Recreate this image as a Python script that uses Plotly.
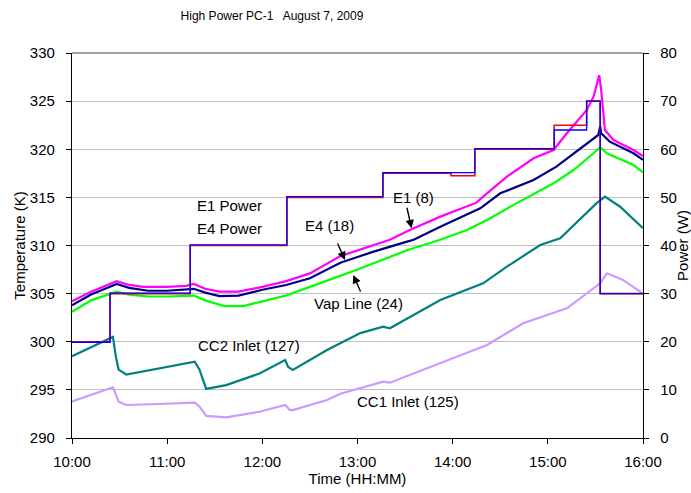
import pandas as pd
import plotly.graph_objects as go

DAY = "2009-08-07"

# ---- data (time as hours after 10:00) ----
e1_t = [0, 0.2, 0.47, 0.6, 0.75, 1.0, 1.2, 1.28, 1.4, 1.55, 1.75, 2.0, 2.25, 2.5, 2.82, 3.0, 3.17, 3.34,
        3.55, 3.87, 4.25, 4.32, 4.57, 4.85, 5.06, 5.20, 5.41, 5.48, 5.54, 5.56, 5.60, 5.69, 5.90, 6.0]
e1_temp = [304.2, 305.2, 306.3, 305.9, 305.7, 305.7, 305.8, 306.0, 305.5, 305.2, 305.2, 305.7, 306.3, 307.1,
           308.9, 309.5, 310.05, 310.6, 311.6, 313.0, 314.45, 315.07, 317.15, 319.06, 319.92, 321.66,
           324.08, 325.46, 327.7, 326.2, 322.0, 320.96, 319.92, 319.3]

e4_t = [0, 0.2, 0.47, 0.6, 0.8, 1.0, 1.28, 1.4, 1.55, 1.75, 2.0, 2.25, 2.5, 2.82, 3.0, 3.17, 3.52, 3.59,
        3.87, 4.22, 4.29, 4.50, 4.85, 5.09, 5.37, 5.53, 5.55, 5.56, 5.65, 5.90, 6.0]
e4_temp = [303.8, 304.9, 306.0, 305.6, 305.3, 305.3, 305.5, 305.1, 304.75, 304.8, 305.4, 305.9, 306.6,
           308.2, 308.8, 309.36, 310.4, 310.6, 311.95, 313.5, 313.86, 315.42, 316.8, 318.19, 320.27,
           321.48, 322.4, 321.66, 320.79, 319.58, 318.9]

vap_t = [0, 0.2, 0.47, 0.6, 0.8, 1.0, 1.28, 1.4, 1.6, 1.8, 2.0, 2.25, 2.5, 2.82, 3.0, 3.17, 3.52, 3.87,
         4.15, 4.36, 4.67, 5.06, 5.27, 5.48, 5.55, 5.62, 5.90, 6.0]
vap_temp = [303.1, 304.3, 305.2, 304.9, 304.7, 304.7, 304.8, 304.3, 303.7, 303.7, 304.2, 304.8, 305.7,
            306.8, 307.5, 308.15, 309.5, 310.6, 311.6, 312.65, 314.38, 316.46, 317.84, 319.58, 320.2,
            319.58, 318.36, 317.6]

cc2_t = [0, 0.40, 0.43, 0.46, 0.49, 0.57, 0.92, 1.29, 1.34, 1.41, 1.62, 1.97, 2.24, 2.27, 2.32, 2.68,
         3.03, 3.27, 3.34, 3.87, 4.32, 4.57, 4.92, 5.13, 5.51, 5.60, 5.76, 6.0]
cc2_temp = [298.5, 300.36, 300.5, 298.5, 297.1, 296.6, 297.24, 297.93, 297.1, 295.1, 295.5, 296.7,
            298.1, 297.4, 297.06, 299.14, 300.9, 301.57, 301.4, 304.34, 306.07, 307.8, 310.05, 310.75,
            314.38, 315.07, 314.03, 311.8]

cc1_t = [0, 0.40, 0.43, 0.49, 0.57, 0.92, 1.29, 1.34, 1.41, 1.62, 1.97, 2.24, 2.29, 2.32, 2.68, 2.82,
         3.03, 3.27, 3.34, 3.87, 4.36, 4.74, 5.20, 5.55, 5.62, 5.79, 6.0]
cc1_temp = [293.8, 295.16, 295.27, 293.77, 293.43, 293.53, 293.67, 293.25, 292.29, 292.15, 292.73,
            293.43, 292.9, 292.9, 293.95, 294.6, 295.16, 295.85, 295.75, 297.76, 299.66, 301.92,
            303.47, 306.07, 307.11, 306.42, 305.0]

pw_t = [0, 0.40, 1.242, 2.258, 3.267, 3.983, 4.233, 5.067, 5.408, 5.55, 6.0]
e1_power = [20, 30, 40, 50, 55, 54.5, 60, 65, 70, 30, 30]
e4_power = [19.9, 30.1, 40.15, 50.15, 55.15, 55.15, 60.15, 64, 70, 30, 30]

x_ticks = ["10:00", "11:00", "12:00", "13:00", "14:00", "15:00", "16:00"]


def to_time(hours):
    return pd.Timestamp(f"{DAY} 10:00") + pd.to_timedelta(hours, unit="h")


def at(clock):
    return f"{DAY} {clock}"


FONT = "Liberation Sans, Arial, sans-serif"

fig = go.Figure()

fig.add_trace(go.Scatter(x=to_time(cc1_t), y=cc1_temp, mode="lines", name="CC1 Inlet (125)",
                         line=dict(color="#CC99FF", width=2.2)))
fig.add_trace(go.Scatter(x=to_time(cc2_t), y=cc2_temp, mode="lines", name="CC2 Inlet (127)",
                         line=dict(color="#008080", width=2.2)))
fig.add_trace(go.Scatter(x=to_time(vap_t), y=vap_temp, mode="lines", name="Vap Line (24)",
                         line=dict(color="#00FF00", width=2.2)))
fig.add_trace(go.Scatter(x=to_time(e4_t), y=e4_temp, mode="lines", name="E4 (18)",
                         line=dict(color="#000080", width=2.2)))
fig.add_trace(go.Scatter(x=to_time(e1_t), y=e1_temp, mode="lines", name="E1 (8)",
                         line=dict(color="#FF00FF", width=2.2)))
fig.add_trace(go.Scatter(x=to_time(pw_t), y=e1_power, mode="lines", name="E1 Power", yaxis="y2",
                         line=dict(color="#FF0000", width=1.6, shape="hv")))
fig.add_trace(go.Scatter(x=to_time(pw_t), y=e4_power, mode="lines", name="E4 Power", yaxis="y2",
                         line=dict(color="#0000FF", width=1.3, shape="hv")))

fig.update_layout(
    width=691, height=493,
    margin=dict(l=72, r=48, t=53, b=55),
    paper_bgcolor="white", plot_bgcolor="white",
    showlegend=False,
    font=dict(family=FONT, size=15, color="black"),
    title=dict(text="High Power PC-1   August 7, 2009", x=272 / 691, xanchor="center",
               y=1 - 16 / 493, yanchor="middle", font=dict(size=12, family=FONT)),
    xaxis=dict(
        type="date", automargin=False,
        range=[at("10:00"), at("16:00")],
        tickvals=[at(t) for t in x_ticks], ticktext=x_ticks,
        ticks="outside", ticklen=5, tickcolor="black", ticklabelstandoff=5,
        showline=True, linecolor="black", linewidth=1.3,
        showgrid=False, zeroline=False,
        title=dict(text="Time (HH:MM)", standoff=4, font=dict(size=15)),
    ),
    yaxis=dict(
        range=[290, 330], dtick=5, tick0=290, automargin=False,
        ticks="outside", ticklen=5, tickcolor="black", ticklabelstandoff=8,
        showline=True, linecolor="black", linewidth=1.3,
        showgrid=True, gridcolor="#C0C0C0", gridwidth=1, zeroline=False,
        title=dict(text="Temperature (K)", standoff=0, font=dict(size=15)),
    ),
    yaxis2=dict(
        range=[0, 80], dtick=10, tick0=0, overlaying="y", side="right", automargin=False,
        ticks="outside", ticklen=5, tickcolor="black", ticklabelstandoff=8,
        showline=True, linecolor="black", linewidth=1.3,
        showgrid=False, zeroline=False,
        title=dict(text="Power (W)", standoff=6, font=dict(size=15)),
    ),
)

fig.add_shape(type="line", xref="paper", yref="paper", x0=0, x1=1, y0=1, y1=1,
              line=dict(color="#808080", width=1.3))

labels = [
    ("E1 Power", 0.2767, 0.6026),
    ("E4 Power", 0.2767, 0.5429),
    ("E1 (8)", 0.5972, 0.6234),
    ("E4 (18)", 0.4518, 0.5532),
    ("Vap Line (24)", 0.5009, 0.3506),
    ("CC2 Inlet (127)", 0.31, 0.239),
    ("CC1 Inlet (125)", 0.5884, 0.0943),
]
for text, xp, yp in labels:
    fig.add_annotation(text=text, xref="paper", yref="paper", x=xp, y=yp, showarrow=False,
                       xanchor="center", yanchor="middle", font=dict(size=15, family=FONT))

arrows = [
    (at("13:34:06"), 311.79, -5, -22),
    (at("12:52:06"), 308.49, -8, -18),
    (at("12:57:18"), 306.94, 8, 18),
]
for xa, ya, dx, dy in arrows:
    fig.add_annotation(text="", x=xa, y=ya, xref="x", yref="y", ax=dx, ay=dy,
                       showarrow=True, arrowhead=2, arrowsize=1.2, arrowwidth=1.4,
                       arrowcolor="black", standoff=0)

fig.write_html("out.html")
